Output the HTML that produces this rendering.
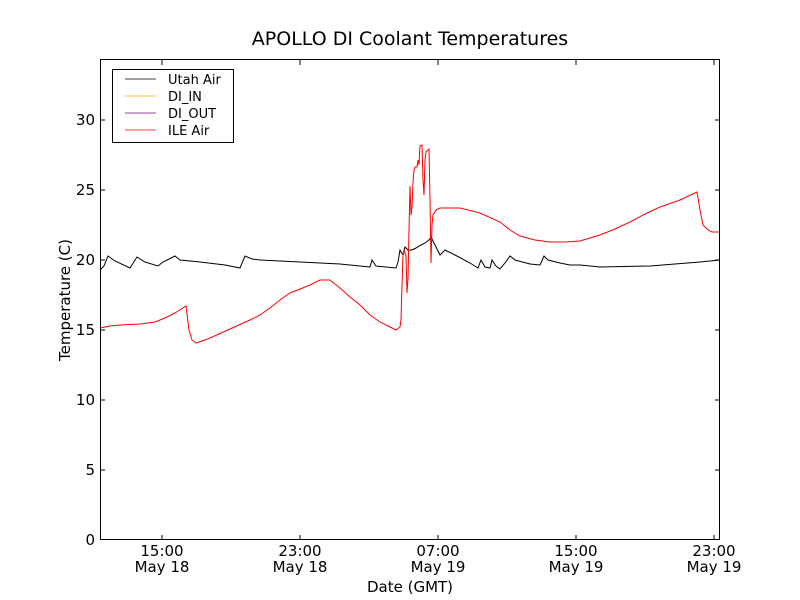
<!DOCTYPE html>
<html><head><meta charset="utf-8"><style>body{margin:0;background:#fff}svg{display:block}text{font-family:"DejaVu Sans","Liberation Sans",sans-serif;fill:#000}</style></head><body>
<svg width="800" height="600" xmlns="http://www.w3.org/2000/svg">
<rect width="800" height="600" fill="#fff"/>
<text x="410" y="45" font-size="19" text-anchor="middle">APOLLO DI Coolant Temperatures</text>
<g stroke="#000" stroke-width="1" fill="none">
<polyline points="100,270 104,266 108,256 115,261 130,268 137,257 145,262 158,266 163,262 175,256 180,260 200,262 225,265 240,268 245,256 252,259 260,260 300,262 340,264 370,267 372,260 376,266 396,268 398,262 400,250 403,255 405,247 408,250 412,250 416,248 421,245 425,243 429,240 431,237 435,245 440,255 445,250 455,255 470,263 478,268 481,260 485,267 490,268 492,260 496,266 500,269 505,263 510,256 515,260 530,264 540,265 544,256 548,260 560,263 570,265 580,265 600,267 650,266 700,262 720,260"/>
<polyline stroke="#f00" points="100,328 110,326 120,325 140,324 155,322 165,318 175,313 186,306 189,330 192,340 196,343 205,340 210,338 230,329 250,320 260,315 270,308 280,300 290,293 300,289 310,285 320,280 330,280 340,288 350,297 360,305 370,315 380,322 390,327 396,330 400,327 401,320 402,285 403,255 404,250 406,256 407,293 408,278 409,230 410,186 411,215 412,207 413,182 414,170 415,167 417,167 418,160 419,165 420,146 422,145 423,180 424,195 425,160 426,152 428,150 429,149 430,200 431,263 432,225 433,215 436,210 440,208 460,208 480,213 500,222 510,230 520,236 535,240 550,242 565,242 580,241 600,235 615,229 630,222 645,214 660,207 680,200 697,192 700,210 703,225 708,230 712,232 720,232"/>
<rect x="100.5" y="59.5" width="619" height="480"/>
<g id="ticks">
<path d="M100,470h5M100,400h5M100,330h5M100,260h5M100,190h5M100,120h5M720,470h-5M720,400h-5M720,330h-5M720,260h-5M720,190h-5M720,120h-5M162,540v-5M300,540v-5M438,540v-5M576,540v-5M714,540v-5M162,60v5M300,60v5M438,60v5M576,60v5M714,60v5"/>
</g>
<rect x="112.5" y="69.5" width="121" height="73" fill="#fff"/>
</g>
<line x1="125" y1="79" x2="156" y2="79" stroke="#000" stroke-width="0.8"/>
<line x1="125" y1="96" x2="156" y2="96" stroke="#ffa500" stroke-width="0.8"/>
<line x1="125" y1="113" x2="156" y2="113" stroke="#800080" stroke-width="0.8"/>
<line x1="125" y1="130" x2="156" y2="130" stroke="#f00" stroke-width="0.8"/>
<g font-size="13"><text x="168" y="84">Utah Air</text><text x="168" y="101">DI_IN</text><text x="168" y="118">DI_OUT</text><text x="168" y="135">ILE Air</text></g>
<g font-size="15" text-anchor="end">
<text x="95" y="545">0</text><text x="95" y="475">5</text><text x="95" y="405">10</text><text x="95" y="335">15</text><text x="95" y="265">20</text><text x="95" y="195">25</text><text x="95" y="125">30</text>
</g>
<g font-size="15" text-anchor="middle">
<text x="162" y="556">15:00</text><text x="162" y="572">May 18</text>
<text x="300" y="556">23:00</text><text x="300" y="572">May 18</text>
<text x="438" y="556">07:00</text><text x="438" y="572">May 19</text>
<text x="576" y="556">15:00</text><text x="576" y="572">May 19</text>
<text x="714" y="556">23:00</text><text x="714" y="572">May 19</text>
<text x="410" y="592">Date (GMT)</text>
</g>
<text x="70" y="300" font-size="15" text-anchor="middle" transform="rotate(-90 70 300)">Temperature (C)</text>
</svg>
</body></html>
